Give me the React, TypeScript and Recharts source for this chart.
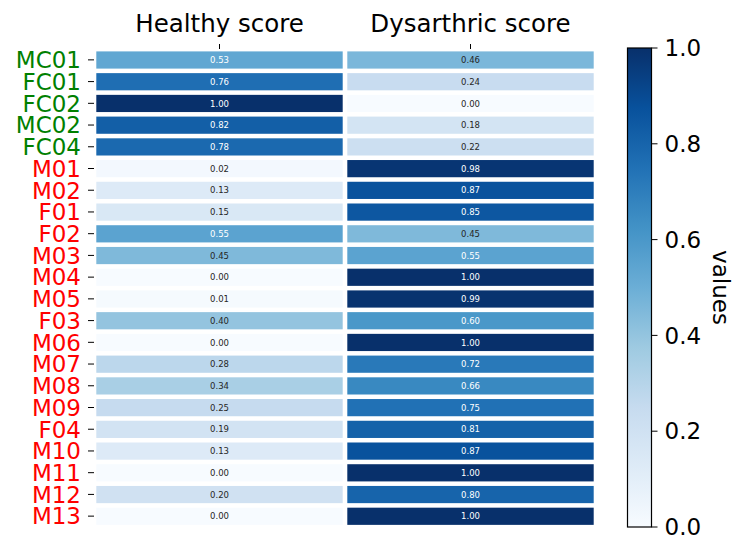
import React from 'react';
import { BarChart, Bar, XAxis, YAxis, LabelList } from 'recharts';

const FONT = '"DejaVu Sans", sans-serif';

const speakers = [
  'MC01', 'FC01', 'FC02', 'MC02', 'FC04', 'M01', 'M02', 'F01', 'F02', 'M03', 'M04',
  'M05', 'F03', 'M06', 'M07', 'M08', 'M09', 'F04', 'M10', 'M11', 'M12', 'M13',
];
const controlSpeakers = ['MC01', 'FC01', 'FC02', 'MC02', 'FC04'];
const columns = ['Healthy score', 'Dysarthric score'];
const healthy = [
  0.53, 0.76, 1.0, 0.82, 0.78, 0.02, 0.13, 0.15, 0.55, 0.45, 0.0,
  0.01, 0.4, 0.0, 0.28, 0.34, 0.25, 0.19, 0.13, 0.0, 0.2, 0.0,
];
const dysarthric = [
  0.46, 0.24, 0.0, 0.18, 0.22, 0.98, 0.87, 0.85, 0.45, 0.55, 1.0,
  0.99, 0.6, 1.0, 0.72, 0.66, 0.75, 0.81, 0.87, 1.0, 0.8, 1.0,
];
const colorbarTicks = [0, 0.2, 0.4, 0.6, 0.8, 1.0];

// matplotlib "Blues"
const BLUES = ['#f7fbff', '#deebf7', '#c6dbef', '#9ecae1', '#6baed6', '#4292c6', '#2171b5', '#08519c', '#08306b'];

const hexToRgb = (h: string) => [1, 3, 5].map(i => parseInt(h.slice(i, i + 2), 16));

const bluesRgb = (v: number) => {
  const t = Math.max(0, Math.min(1, v)) * (BLUES.length - 1);
  const i = Math.min(Math.floor(t), BLUES.length - 2);
  const f = t - i;
  const a = hexToRgb(BLUES[i]);
  const b = hexToRgb(BLUES[i + 1]);
  return a.map((c, k) => c + (b[k] - c) * f);
};

const blues = (v: number) => {
  const [r, g, b] = bluesRgb(v);
  return `rgb(${Math.round(r)},${Math.round(g)},${Math.round(b)})`;
};

// seaborn-style annotation colour
const textColor = (v: number) => {
  const lin = bluesRgb(v).map(c => {
    const s = c / 255;
    return s <= 0.03928 ? s / 12.92 : Math.pow((s + 0.055) / 1.055, 2.4);
  });
  const lum = 0.2126 * lin[0] + 0.7152 * lin[1] + 0.0722 * lin[2];
  return lum > 0.408 ? '#262626' : '#ffffff';
};

const rows = speakers.map((name, i) => ({
  name,
  healthy: healthy[i],
  dysarthric: dysarthric[i],
  hCell: 1,
  dCell: 1,
}));

const makeCell = (values: number[]) => (props: any) => {
  const { x, y, width, height, index } = props;
  return (
    <rect
      x={x + 2.3}
      y={y + 2.4}
      width={width - 4.6}
      height={height - 4.8}
      fill={blues(values[index])}
    />
  );
};

const cellLabel = (props: any) => {
  const { x, y, width, height, value } = props;
  return (
    <text
      x={x + width / 2}
      y={y + height / 2}
      dy="0.36em"
      textAnchor="middle"
      fontSize={8.5}
      fontFamily={FONT}
      fill={textColor(Number(value))}
    >
      {Number(value).toFixed(2)}
    </text>
  );
};

const SpeakerTick = (props: any) => {
  const { x, y, payload } = props;
  const isControl = controlSpeakers.includes(payload.value);
  return (
    <text
      x={x}
      y={y}
      dy="0.36em"
      textAnchor="end"
      fontSize={23}
      fontFamily={FONT}
      fill={isControl ? '#008000' : '#ff0000'}
    >
      {payload.value}
    </text>
  );
};

const ColorbarShape = (props: any) => {
  const { x, y, width, height } = props;
  return (
    <rect x={x} y={y} width={width} height={height} fill="url(#bluesGrad)" stroke="#000" strokeWidth={1.2} />
  );
};

const colorbarData = [{ v: colorbarTicks[colorbarTicks.length - 1] }];

export default function App() {
  return (
    <div style={{ position: 'absolute', left: 0, top: 0, width: 747, height: 555, background: '#fff' }}>
      <div style={{ position: 'absolute', left: 0, top: 0 }}>
        <BarChart
          width={747}
          height={555}
          data={rows}
          layout="vertical"
          barCategoryGap={0}
          barGap={0}
          margin={{ top: 0, right: 151, bottom: 28, left: 0 }}
        >
          <XAxis
            type="number"
            orientation="top"
            domain={[0, 2]}
            ticks={[0.5, 1.5]}
            tickFormatter={(v: number) => columns[Math.floor(v)]}
            height={49}
            axisLine={false}
            tickSize={5}
            tickMargin={12}
            tickLine={{ stroke: '#000' }}
            tick={{ fontSize: 24.5, fill: '#000', fontFamily: FONT }}
          />
          <YAxis
            type="category"
            dataKey="name"
            width={94}
            interval={0}
            axisLine={false}
            tickSize={6}
            tickMargin={7}
            tickLine={{ stroke: '#000' }}
            tick={<SpeakerTick />}
          />
          <Bar dataKey="hCell" stackId="a" isAnimationActive={false} shape={makeCell(healthy)}>
            <LabelList dataKey="healthy" content={cellLabel} />
          </Bar>
          <Bar dataKey="dCell" stackId="a" isAnimationActive={false} shape={makeCell(dysarthric)}>
            <LabelList dataKey="dysarthric" content={cellLabel} />
          </Bar>
        </BarChart>
      </div>
      <div style={{ position: 'absolute', left: 0, top: 0 }}>
        <BarChart
          width={747}
          height={555}
          data={colorbarData}
          barCategoryGap={0}
          margin={{ top: 48, right: 0, bottom: 28, left: 627.5 }}
        >
          <defs>
            <linearGradient id="bluesGrad" x1="0" y1="1" x2="0" y2="0">
              {BLUES.map((c, i) => (
                <stop key={c} offset={`${(i / (BLUES.length - 1)) * 100}%`} stopColor={c} />
              ))}
            </linearGradient>
          </defs>
          <XAxis type="category" hide />
          <YAxis
            type="number"
            orientation="right"
            domain={[0, 1]}
            ticks={colorbarTicks}
            tickFormatter={(v: number) => v.toFixed(1)}
            width={95.5}
            axisLine={false}
            tickSize={6}
            tickMargin={7}
            tickLine={{ stroke: '#000' }}
            tick={{ fontSize: 23, fill: '#000', fontFamily: FONT }}
            label={{
              content: (p: any) => {
                const vb = p.viewBox;
                const cx = vb.x + 70;
                const cy = vb.y + vb.height / 2;
                return (
                  <text
                    x={cx}
                    y={cy}
                    transform={`rotate(90, ${cx}, ${cy})`}
                    textAnchor="middle"
                    dy="0.36em"
                    fontSize={23}
                    fontFamily={FONT}
                    fill="#000"
                  >
                    values
                  </text>
                );
              },
            }}
          />
          <Bar dataKey="v" isAnimationActive={false} shape={<ColorbarShape />} />
        </BarChart>
      </div>
    </div>
  );
}
